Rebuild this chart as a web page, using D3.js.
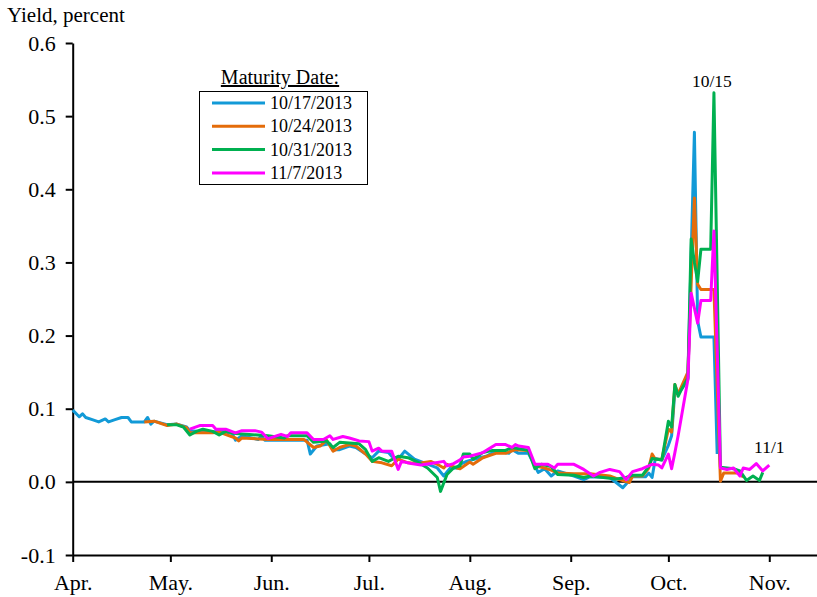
<!DOCTYPE html>
<html lang="en">
<head>
<meta charset="utf-8">
<title>Treasury bill yields by maturity date</title>
<script src="https://cdn.jsdelivr.net/npm/d3@7/dist/d3.min.js"></script>
<style>
  body { margin: 0; background: #fff; }
  svg text { font-family: "Liberation Serif", "Times New Roman", serif; fill: #000; }
</style>
</head>
<body>
<script>
// maturity dates shown in the legend, and their line colours
var seriesNames = ["10/17/2013", "10/24/2013", "10/31/2013", "11/7/2013"];
var seriesColors = ["#129ad7", "#e46c0a", "#00b050", "#ff00ff"];

// daily yields, percent (month-day in 2013, value)
var bill1017 = [
  ["04-01",0.098],["04-03",0.089],["04-04",0.093],["04-05",0.088],["04-07",0.085],["04-09",0.082],
  ["04-11",0.086],["04-12",0.082],["04-14",0.085],["04-16",0.088],["04-18",0.088],["04-19",0.082],
  ["04-23",0.082],["04-24",0.088],["04-25",0.079],["04-26",0.083],["04-30",0.078],["05-03",0.079],
  ["05-06",0.075],["05-07",0.070],["05-10",0.069],["05-14",0.068],["05-16",0.070],["05-20",0.066],
  ["05-21",0.057],["05-23",0.063],["05-28",0.058],["05-29",0.063],["05-30",0.057],["06-12",0.057],
  ["06-13",0.038],["06-15",0.049],["06-19",0.052],["06-20",0.044],["06-22",0.044],["06-25",0.049],
  ["06-27",0.047],["06-30",0.038],["07-02",0.033],["07-04",0.042],["07-07",0.040],["07-08",0.035],
  ["07-10",0.031],["07-12",0.042],["07-15",0.031],["07-18",0.026],["07-22",0.019],["07-24",0.008],
  ["07-26",0.019],["07-28",0.019],["07-29",0.024],["07-31",0.028],["08-04",0.033],["08-06",0.035],
  ["08-09",0.042],["08-13",0.039],["08-14",0.044],["08-16",0.039],["08-19",0.039],["08-22",0.013],
  ["08-24",0.018],["08-26",0.008],["08-28",0.015],["09-02",0.008],["09-05",0.003],["09-07",0.007],
  ["09-13",0.006],["09-17",-0.008],["09-19",0.002],["09-20",0.007],["09-24",0.007],["09-25",0.012],
  ["09-26",0.006],["09-27",0.032],["09-29",0.030],["10-01",0.050],["10-02",0.063],["10-03",0.125],
  ["10-04",0.120],["10-07",0.140],["10-08",0.310],["10-09",0.478],["10-10",0.220],["10-11",0.198],
  ["10-14",0.198],["10-15",0.198],["10-16",0.038]
];
var bill1024 = [
  ["04-23",0.082],["04-26",0.083],["04-30",0.077],["05-03",0.079],["05-06",0.074],["05-07",0.067],
  ["05-10",0.067],["05-14",0.067],["05-16",0.068],["05-21",0.060],["05-22",0.056],["05-23",0.060],
  ["05-31",0.058],["06-11",0.058],["06-14",0.047],["06-16",0.049],["06-18",0.057],["06-20",0.042],
  ["06-22",0.047],["06-25",0.051],["06-27",0.049],["06-30",0.038],["07-02",0.028],["07-05",0.026],
  ["07-08",0.022],["07-10",0.031],["07-13",0.026],["07-16",0.025],["07-20",0.028],["07-22",0.024],
  ["07-24",0.019],["07-25",0.024],["07-28",0.019],["07-29",0.018],["07-30",0.021],["08-01",0.027],
  ["08-02",0.024],["08-05",0.033],["08-09",0.039],["08-12",0.039],["08-15",0.044],["08-19",0.043],
  ["08-21",0.022],["08-24",0.019],["08-26",0.016],["08-28",0.012],["09-02",0.011],["09-07",0.011],
  ["09-13",0.008],["09-16",0.003],["09-19",-0.001],["09-20",0.008],["09-23",0.008],["09-25",0.019],
  ["09-26",0.038],["09-27",0.031],["09-29",0.031],["10-01",0.072],["10-02",0.068],["10-03",0.133],
  ["10-04",0.120],["10-07",0.150],["10-08",0.270],["10-09",0.388],["10-10",0.270],["10-11",0.263],
  ["10-14",0.263],["10-15",0.263],["10-17",0.001],["10-18",0.012],["10-23",0.012],["10-24",0.006]
];
var bill1031 = [
  ["04-30",0.078],["05-03",0.078],["05-05",0.075],["05-07",0.064],["05-09",0.069],["05-11",0.072],
  ["05-14",0.069],["05-16",0.064],["05-18",0.069],["05-21",0.066],["05-31",0.063],["06-05",0.060],
  ["06-06",0.063],["06-12",0.063],["06-14",0.054],["06-18",0.056],["06-20",0.047],["06-22",0.054],
  ["06-25",0.053],["06-28",0.052],["06-30",0.044],["07-02",0.028],["07-04",0.033],["07-07",0.028],
  ["07-10",0.035],["07-13",0.033],["07-16",0.027],["07-19",0.019],["07-22",0.006],["07-23",-0.013],
  ["07-25",0.010],["07-27",0.019],["07-29",0.022],["07-30",0.038],["08-01",0.038],["08-02",0.031],
  ["08-05",0.040],["08-08",0.043],["08-12",0.043],["08-14",0.047],["08-18",0.044],["08-19",0.043],
  ["08-21",0.018],["08-23",0.024],["08-26",0.021],["08-28",0.010],["09-02",0.009],["09-05",0.006],
  ["09-07",0.008],["09-11",0.006],["09-15",0.004],["09-18",0.006],["09-20",0.009],["09-23",0.009],
  ["09-25",0.021],["09-26",0.032],["09-29",0.030],["10-01",0.083],["10-02",0.075],["10-03",0.133],
  ["10-04",0.117],["10-05",0.126],["10-07",0.142],["10-08",0.332],["10-09",0.300],["10-10",0.274],
  ["10-11",0.318],["10-14",0.318],["10-15",0.532],["10-17",0.020],["10-21",0.018],["10-23",0.015],
  ["10-25",0.002],["10-27",0.008],["10-29",0.002],["10-30",0.013]
];
var bill1107 = [
  ["05-07",0.072],["05-10",0.077],["05-14",0.077],["05-15",0.072],["05-18",0.072],["05-21",0.067],
  ["05-23",0.070],["05-27",0.070],["05-29",0.068],["05-31",0.059],["06-04",0.065],["06-06",0.062],
  ["06-07",0.067],["06-12",0.067],["06-14",0.058],["06-17",0.058],["06-19",0.063],["06-20",0.058],
  ["06-23",0.062],["06-25",0.060],["06-28",0.056],["07-01",0.055],["07-02",0.042],["07-04",0.046],
  ["07-05",0.042],["07-08",0.042],["07-10",0.017],["07-11",0.028],["07-14",0.025],["07-17",0.023],
  ["07-20",0.025],["07-24",0.028],["07-25",0.022],["07-27",0.025],["07-29",0.030],["07-30",0.034],
  ["08-01",0.035],["08-05",0.040],["08-09",0.051],["08-12",0.051],["08-14",0.047],["08-15",0.051],
  ["08-16",0.049],["08-19",0.047],["08-21",0.024],["08-25",0.024],["08-27",0.019],["08-28",0.024],
  ["09-02",0.024],["09-05",0.017],["09-08",0.008],["09-10",0.013],["09-13",0.017],["09-16",0.014],
  ["09-18",0.003],["09-20",0.014],["09-23",0.018],["09-26",0.024],["09-28",0.023],["09-29",0.019],
  ["10-01",0.038],["10-02",0.018],["10-03",0.040],["10-04",0.063],["10-07",0.140],["10-08",0.258],
  ["10-10",0.217],["10-11",0.248],["10-14",0.248],["10-15",0.343],["10-17",0.019],["10-19",0.017],
  ["10-21",0.019],["10-23",0.008],["10-24",0.019],["10-26",0.017],["10-28",0.025],["10-30",0.015],
  ["11-01",0.023]
];
var allSeries = [bill1017, bill1024, bill1031, bill1107];

// axis ticks
var monthTicks = ["04-01","05-01","06-01","07-01","08-01","09-01","10-01","11-01"];
var monthLabels = ["Apr.","May.","Jun.","Jul.","Aug.","Sep.","Oct.","Nov."];
var yTicks = [-0.1, 0, 0.1, 0.2, 0.3, 0.4, 0.5, 0.6];
var yLabels = ["-0.1","0.0","0.1","0.2","0.3","0.4","0.5","0.6"];

// annotations
var notes = [["10-15", 0.532, "10/15"], ["11-01", 0.023, "11/1"]];

var W = 817, H = 597;
var serif = '"Liberation Serif", "Times New Roman", serif';
var parse = d3.timeParse("%Y-%m-%d");
function day(s) { return parse("2013-" + s); }

var svg = d3.select("body").append("svg").attr("width", W).attr("height", H);

var x = d3.scaleTime()
    .domain([day("04-01"), day("11-16")])
    .range([72.7, 72.7 + 229 * 3.255]);
var y = d3.scaleLinear().domain([-0.1, 0.6]).range([555, 43]);

// y axis
var yAxis = svg.append("g")
    .attr("transform", "translate(72.7,0)")
    .call(d3.axisLeft(y).tickValues(yTicks).tickSize(7).tickSizeOuter(0)
      .tickFormat(function(d, i) { return yLabels[i]; }));
yAxis.attr("font-family", serif);
yAxis.selectAll("path, line").attr("stroke", "#000").attr("stroke-width", 2);
yAxis.selectAll("text").style("font-family", serif).attr("font-size", 22).attr("x", -17);

// x axis at the bottom
var xAxis = svg.append("g")
    .attr("transform", "translate(0,555)")
    .call(d3.axisBottom(x).tickValues(monthTicks.map(day)).tickSize(7).tickSizeOuter(0)
      .tickFormat(function(d, i) { return monthLabels[i]; }));
xAxis.attr("font-family", serif);
xAxis.selectAll("path, line").attr("stroke", "#000").attr("stroke-width", 2);
xAxis.selectAll("text").style("font-family", serif).attr("font-size", 22).attr("dy", 0).attr("y", 35);

// zero line
svg.append("line")
    .attr("x1", x.range()[0]).attr("x2", W)
    .attr("y1", y(0)).attr("y2", y(0))
    .attr("stroke", "#000").attr("stroke-width", 2);

svg.append("text").attr("x", 7).attr("y", 22).attr("font-size", 21).text("Yield, percent");

// series lines
var line = d3.line()
    .x(function(d) { return x(day(d[0])); })
    .y(function(d) { return y(d[1]); });

svg.selectAll("path.series")
    .data(allSeries)
    .enter().append("path")
    .attr("class", "series")
    .attr("d", line)
    .attr("fill", "none")
    .attr("stroke", function(d, i) { return seriesColors[i]; })
    .attr("stroke-width", 3)
    .attr("stroke-linejoin", "round");

// annotations
svg.append("text").attr("x", x(day(notes[0][0])) - 2).attr("y", 87)
    .attr("text-anchor", "middle").attr("font-size", 17.5).text(notes[0][2]);
svg.append("text").attr("x", x(day(notes[1][0]))).attr("y", 453)
    .attr("text-anchor", "middle").attr("font-size", 17.5).text(notes[1][2]);

// legend
var legend = svg.append("g");
legend.append("text").attr("x", 280).attr("y", 84).attr("text-anchor", "middle")
    .attr("font-size", 20).attr("text-decoration", "underline").text("Maturity Date:");
legend.append("rect").attr("x", 199.5).attr("y", 91.5).attr("width", 168).attr("height", 93)
    .attr("fill", "#fff").attr("stroke", "#000").attr("stroke-width", 1);
var item = legend.selectAll("g.item").data(seriesNames).enter().append("g")
    .attr("class", "item")
    .attr("transform", function(d, i) { return "translate(0," + (103 + i * 23.3) + ")"; });
item.append("line").attr("x1", 212).attr("x2", 265)
    .attr("stroke", function(d, i) { return seriesColors[i]; }).attr("stroke-width", 3);
item.append("text").attr("x", 270).attr("y", 6).attr("font-size", 18).text(function(d) { return d; });
</script>
</body>
</html>
